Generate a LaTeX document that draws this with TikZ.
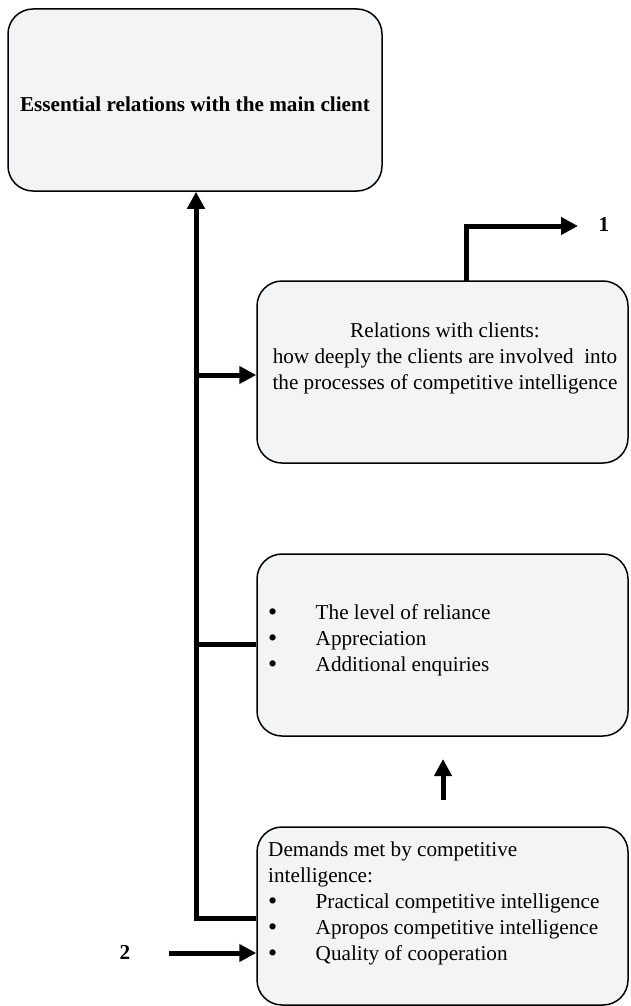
\documentclass[tikz,border=0pt]{standalone}
\usepackage{fontspec}
\setmainfont{Liberation Serif}
\usetikzlibrary{arrows.meta}
\definecolor{boxfill}{RGB}{243,244,246}
\newcommand{\bigbul}{\makebox[47.5pt][l]{\raisebox{-1.5pt}{\fontsize{26}{26}\selectfont\textbullet}}}
\begin{document}
\begin{tikzpicture}[x=1pt,y=-1pt,
  box/.style={draw=black,line width=1.5pt,fill=boxfill,rounded corners=25pt,inner sep=0pt},
  txt/.style={font=\fontsize{21.2}{26}\selectfont,inner sep=0pt},
  btxt/.style={font=\fontsize{21.2}{26}\selectfont\bfseries,inner sep=0pt},
  conn/.style={line width=5pt},
  arr/.style={conn,-{Triangle[length=17pt,width=17pt]}}]
\useasboundingbox (0,0) rectangle (630,1006);
% boxes
\node[box,minimum width=374pt,minimum height=182pt] (box1) at (195,100) {};
\node[box,minimum width=371pt,minimum height=182pt] (box2) at (442.5,372) {};
\node[box,minimum width=371pt,minimum height=182pt] (box3) at (442.5,645) {};
\node[box,minimum width=371pt,minimum height=178pt] (box4) at (442.5,916) {};
% texts
\node[btxt,anchor=base] (t1) at (195,112) {Essential relations with the main client};
\node[txt,anchor=base] (t2) at (445,337) {\begin{tabular}[t]{@{}c@{}}Relations with clients:\\ how deeply the clients are involved~ into\\ the processes of competitive intelligence\end{tabular}};
\node[txt,anchor=base west] (t3) at (268,619) {\begin{tabular}[t]{@{}l@{}l@{}}\bigbul & The level of reliance\\ \bigbul & Appreciation\\ \bigbul & Additional enquiries\end{tabular}};
\node[txt,anchor=base west] (t4) at (268,856) {\begin{tabular}[t]{@{}l@{}l@{}}\multicolumn{2}{@{}l@{}}{Demands met by competitive}\\ \multicolumn{2}{@{}l@{}}{intelligence:}\\ \bigbul & Practical competitive intelligence\\ \bigbul & Apropos competitive intelligence\\ \bigbul & Quality of cooperation\end{tabular}};
\node[btxt] (n1) at (604,225) {1};
\node[btxt] (n2) at (125,952) {2};
% coordinates
\coordinate (tb) at (196,918);
\coordinate (j2) at (196,375);
\coordinate (j3) at (196,644);
\coordinate (o1) at (466,281);
\coordinate (k1) at (466,226);
\coordinate (e1) at (578,226);
\coordinate (s2) at (169,953);
\coordinate (u1) at (443,800);
\coordinate (u2) at (443,759);
% connectors
\draw[arr] (box4.west |- tb) -- (tb) -- (tb |- box1.south);
\draw[arr] (j2) -- (j2 -| box2.west);
\draw[conn] (j3) -- (j3 -| box3.west);
\draw[arr] (o1) -- (k1) -- (e1);
\draw[arr] (s2) -- (s2 -| box4.west);
\draw[arr] (u1) -- (u2);
\end{tikzpicture}
\end{document}
